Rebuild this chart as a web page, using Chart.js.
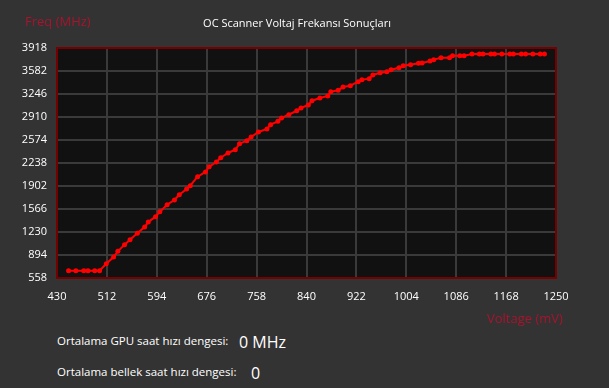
<!DOCTYPE html>
<html>
<head>
<meta charset="utf-8">
<script src="https://cdn.jsdelivr.net/npm/chart.js@4/dist/chart.umd.min.js"></script>
<style>
  html, body { margin:0; padding:0; background:#333333; }
  body { width:609px; height:388px; position:relative; overflow:hidden; font-family:"Open Sans","Noto Sans",sans-serif; }
  #wrap { position:absolute; left:0; top:0; width:609px; height:310px; }
  .t { position:absolute; white-space:nowrap; }
</style>
</head>
<body>
<div id="wrap"><canvas id="c" width="609" height="310"></canvas></div>
<div class="t" style="left:0;width:594px;top:15px;text-align:center;color:#ffffff;font-size:11px;">OC Scanner Voltaj Frekansı Sonuçları</div>
<div class="t" style="left:25px;top:12px;color:#a8142e;font-size:13px;">Freq (MHz)</div>
<div class="t" style="left:487px;top:309px;color:#a8142e;font-size:13px;">Voltage (mV)</div>
<div class="t" style="left:57px;top:333px;color:#ffffff;font-size:11.5px;">Ortalama GPU saat hızı dengesi:</div>
<div class="t" style="left:239px;top:331px;color:#ffffff;font-size:16px;">0 MHz</div>
<div class="t" style="left:57px;top:364px;color:#ffffff;font-size:11.5px;">Ortalama bellek saat hızı dengesi:</div>
<div class="t" style="left:251px;top:362px;color:#ffffff;font-size:16px;">0</div>
<script>
const voltages = [449, 461, 474, 481, 492, 500,
  511, 523, 530, 541, 550, 562, 574, 580, 592, 599, 611, 623, 631, 643,
  649, 661, 674, 680, 692, 699, 711, 723, 730, 742, 749, 761, 775, 781, 793, 799, 811,
  824, 831, 843, 849, 862, 875, 880, 892, 900, 912,
  925, 931, 943, 949, 961, 972, 979, 992, 999, 1011,
  1024, 1030, 1043, 1049, 1061, 1075, 1080, 1092, 1099,
  1112, 1124, 1130, 1143, 1149, 1161, 1174, 1180, 1193, 1200, 1212, 1224, 1231];
const frequencies = [665, 665, 665, 665, 665, 665,
  767, 865, 948, 1045, 1118, 1211, 1303, 1376, 1454, 1527, 1629, 1698, 1775, 1858,
  1907, 2038, 2107, 2184, 2253, 2316, 2384, 2432, 2520, 2564, 2618, 2691, 2735, 2798, 2847, 2896, 2944,
  3001, 3042, 3086, 3148, 3188, 3217, 3280, 3300, 3349, 3368,
  3426, 3455, 3470, 3524, 3557, 3572, 3601, 3630, 3660, 3674,
  3695, 3699, 3728, 3747, 3777, 3777, 3806, 3806, 3806,
  3831, 3831, 3831, 3831, 3831, 3831, 3831, 3831, 3831, 3831, 3831, 3831, 3831];
const xTicks = [430, 512, 594, 676, 758, 840, 922, 1004, 1086, 1168, 1250];
const yTicks = [558, 894, 1230, 1566, 1902, 2238, 2574, 2910, 3246, 3582, 3918];

const points = voltages.map((v, i) => ({ x: v, y: frequencies[i] }));

const areaPlugin = {
  id: 'area',
  beforeDraw(chart) {
    const a = chart.chartArea, ctx = chart.ctx;
    ctx.save();
    ctx.fillStyle = '#111111';
    ctx.fillRect(a.left, a.top, a.right - a.left, a.bottom - a.top);
    ctx.restore();
  },
  beforeDatasetsDraw(chart) {
    const a = chart.chartArea, ctx = chart.ctx;
    ctx.save();
    ctx.strokeStyle = '#760000';
    ctx.lineWidth = 2;
    ctx.strokeRect(a.left, a.top, a.right - a.left, a.bottom - a.top);
    ctx.restore();
  }
};

new Chart(document.getElementById('c'), {
  type: 'scatter',
  data: {
    datasets: [{
      data: points,
      showLine: true,
      borderColor: '#ff0000',
      backgroundColor: '#ff0000',
      borderWidth: 2,
      pointRadius: 2.5,
      pointHoverRadius: 2.5,
      pointBorderWidth: 0,
      tension: 0
    }]
  },
  options: {
    responsive: false,
    animation: false,
    events: [],
    layout: { padding: { top: 48, right: 53, left: 0, bottom: 0 } },
    plugins: { legend: { display: false }, tooltip: { enabled: false } },
    scales: {
      x: {
        type: 'linear',
        min: 430, max: 1250,
        afterFit(s) { s.height = 32; },
        afterBuildTicks(s) { s.ticks = xTicks.map(v => ({ value: v })); },
        border: { display: false },
        grid: { color: '#3a3a3a', lineWidth: 2, drawTicks: false },
        ticks: { color: '#ffffff', padding: 12, maxRotation: 0, autoSkip: false,
                 font: { family: 'Open Sans', size: 11 },
                 callback: v => String(v) }
      },
      y: {
        type: 'linear',
        min: 558, max: 3918,
        afterFit(s) { s.width = 57; },
        afterBuildTicks(s) { s.ticks = yTicks.map(v => ({ value: v })); },
        border: { display: false },
        grid: { color: '#3a3a3a', lineWidth: 2, drawTicks: false },
        ticks: { color: '#ffffff', padding: 10, autoSkip: false,
                 font: { family: 'Open Sans', size: 11 },
                 callback: v => String(v) }
      }
    }
  },
  plugins: [areaPlugin]
});
</script>
</body>
</html>
